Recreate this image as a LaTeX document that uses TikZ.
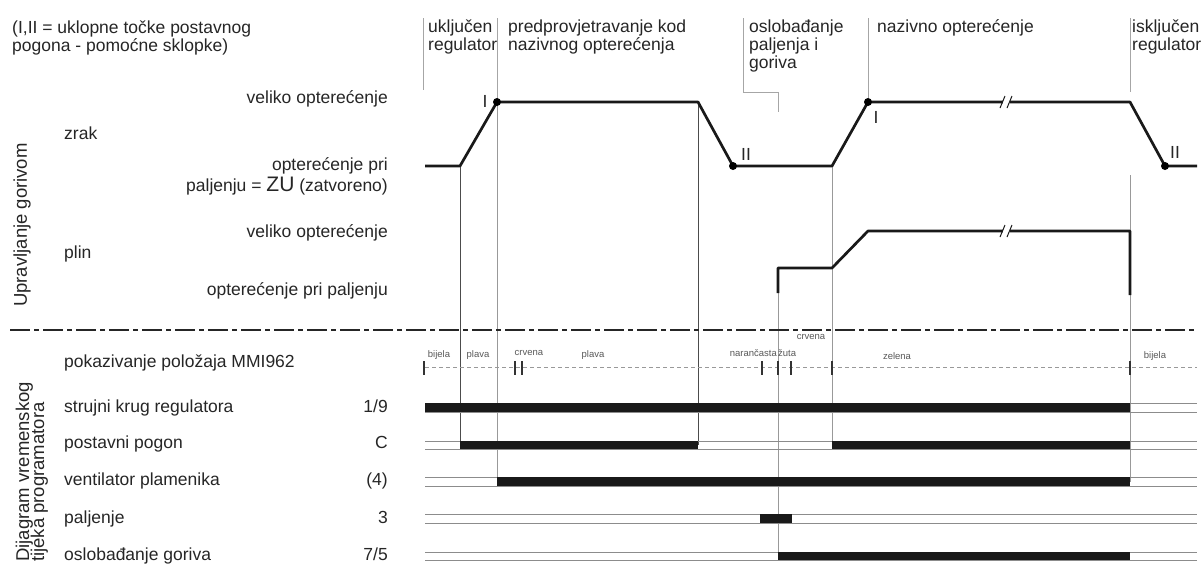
\documentclass[tikz,border=0pt]{standalone}
\usepackage{fontspec}
\setmainfont{Liberation Sans}
\begin{document}
\begin{tikzpicture}[x=1pt,y=-1pt,
  lbl/.style={font=\fontsize{17.5}{18}\selectfont, inner sep=0pt, text=black!85},
  lblw/.style={lbl, anchor=base west},
  lble/.style={lbl, anchor=base east},
  rlbl/.style={font=\fontsize{18.5}{19}\selectfont, inner sep=0pt, text=black!85, rotate=90, anchor=base west},
  tinylbl/.style={font=\fontsize{9.5}{10}\selectfont, inner sep=0pt, text=black!65},
  curve/.style={line width=2.7pt, line join=round, black!90},
  gap/.style={fill=white, draw=none},
  brk/.style={line width=1pt, black!90},
  hdr/.style={line width=0.9pt, black!35},
  vline/.style={line width=0.9pt, black!40},
  vdark/.style={line width=0.9pt, black!70},
  chan/.style={line width=0.8pt, black!45},
  bar/.style={fill=black!90, draw=none},
  tickm/.style={line width=2pt, black!80},
  dotm/.style={circle, fill=black, inner sep=0pt, minimum size=8pt},
  sep/.style={line width=2.6pt, black!85, dash pattern=on 20pt off 4pt on 5pt off 4pt},
]
\useasboundingbox (0,0) rectangle (1203,563);
\fill[white] (0,0) rectangle (1203,563);

% ---------- header texts ----------
\node[lblw] (n1) at (12,33) {(I,II = uklopne točke postavnog};
\node[lblw] (n2) at (12,51) {pogona - pomoćne sklopke)};
\node[lblw] (h1a) at (428,32) {uključen};
\node[lblw] (h1b) at (428,50) {regulator};
\node[lblw] (h2a) at (508,32) {predprovjetravanje kod};
\node[lblw] (h2b) at (508,50) {nazivnog opterećenja};
\node[lblw] (h3a) at (749,32) {oslobađanje};
\node[lblw] (h3b) at (749,50) {paljenja i};
\node[lblw] (h3c) at (749,68) {goriva};
\node[lblw] (h4) at (877,32) {nazivno opterećenje};
\node[lblw] (h5a) at (1132,32) {isključen};
\node[lblw] (h5b) at (1132,50) {regulator};

% header separator lines
\draw[hdr] (423,18) -- (423,90);
\draw[hdr] (497,18) -- (497,100);
\draw[hdr] (743,18) -- (743,92) -- (778,92) -- (778,112);
\draw[hdr] (868,18) -- (868,98);
\draw[hdr] (1130,18) -- (1130,92);

% ---------- upper left labels ----------
\node[lble] (zv) at (388,103) {veliko opterećenje};
\node[lblw] (zr) at (64,139) {zrak};
\node[lble] (zo1) at (388,170) {opterećenje pri};
\node[lble] (zo2) at (388,191) {paljenju = {\fontsize{21}{21}\selectfont ZU} (zatvoreno)};
\node[lble] (pv) at (388,237) {veliko opterećenje};
\node[lblw] (pl) at (64,258) {plin};
\node[lble] (po) at (388,295) {opterećenje pri paljenju};
\node[rlbl] (ug) at (27,307) {Upravljanje gorivom};

% ---------- vertical guide lines ----------
\draw[vdark] (460,166) -- (460,445);
\draw[vline] (497,102) -- (497,482);
\draw[vdark] (698,102) -- (698,445);
\draw[vline] (778,293) -- (778,556);
\draw[vline] (832,166) -- (832,445);
\draw[vline] (1130,175) -- (1130,482);

% ---------- zrak curve ----------
\draw[curve] (425,166) -- (460,166) -- (497,102) -- (698,102) -- (733,166)
  -- (832,166) -- (868,102) -- (1130,102) -- (1165,166) -- (1197,166);
% ---------- plin curve ----------
\draw[curve] (778,293) -- (778,268) -- (832,268) -- (868,231) -- (1130,231) -- (1130,295);
% breaks
\fill[gap] (1003,96) rectangle (1010,108);
\fill[gap] (1003,225) rectangle (1010,237);
\draw[brk] (1000,108) -- (1005,96);
\draw[brk] (1007,108) -- (1012,96);
\draw[brk] (1000,237) -- (1005,225);
\draw[brk] (1007,237) -- (1012,225);

\node[dotm] (d1) at (497,102) {};
\node[dotm] (d2) at (733,166) {};
\node[dotm] (d3) at (868,102) {};
\node[dotm] (d4) at (1165,166) {};
\node[lbl, anchor=base] (r1) at (485,107) {I};
\node[lbl, anchor=base] (r2) at (746,160) {II};
\node[lbl, anchor=base] (r3) at (876,123) {I};
\node[lbl, anchor=base] (r4) at (1175,158) {II};

% ---------- separator ----------
\draw[sep] (10,330) -- (1197,330);

% ---------- lower labels ----------
\node[lblw] (mm) at (64,367) {pokazivanje položaja MMI962};
\node[lblw] (s1) at (64,412) {strujni krug regulatora};
\node[lble] (k1) at (388,412) {1/9};
\node[lblw] (s2) at (64,448) {postavni pogon};
\node[lble] (k2) at (388,448) {C};
\node[lblw] (s3) at (64,485) {ventilator plamenika};
\node[lble] (k3) at (388,485) {(4)};
\node[lblw] (s4) at (64,523) {paljenje};
\node[lble] (k4) at (388,523) {3};
\node[lblw] (s5) at (64,560) {oslobađanje goriva};
\node[lble] (k5) at (388,560) {7/5};
\node[rlbl] (dg1) at (29,562) {Dijagram vremenskog};
\node[rlbl] (dg2) at (44,562) {tijeka programatora};

% ---------- MMI962 row ----------
\draw[black!40, line width=0.8pt, dash pattern=on 4pt off 3pt] (425,367) -- (1197,367);
\foreach \x in {424,515,522,762,778,791,832,1130}
  \draw[tickm] (\x,361) -- (\x,375);
\node[tinylbl] (c1) at (439,355) {bijela};
\node[tinylbl] (c2) at (478,355) {plava};
\node[tinylbl] (c3) at (529,353) {crvena};
\node[tinylbl] (c4) at (593,355) {plava};
\node[tinylbl, anchor=east] (c5) at (777,353) {narančasta};
\node[tinylbl, anchor=west] (c6) at (778,353) {žuta};
\node[tinylbl] (c7) at (811,337) {crvena};
\node[tinylbl] (c8) at (897,356) {zelena};
\node[tinylbl] (c9) at (1155,356) {bijela};

% ---------- programmer channels ----------
\foreach \yt/\yb in {403/412,441/449,477/486,514/523,552/560}{
  \draw[chan] (425,\yt) -- (1197,\yt);
  \draw[chan] (425,\yb) -- (1197,\yb);
}
\fill[bar] (425,403) rectangle (1130,412);
\fill[bar] (460,441) rectangle (698,449);
\fill[bar] (832,441) rectangle (1130,449);
\fill[bar] (497,477) rectangle (1130,486);
\fill[bar] (760,514) rectangle (792,523);
\fill[bar] (778,552) rectangle (1130,560);
\end{tikzpicture}
\end{document}
